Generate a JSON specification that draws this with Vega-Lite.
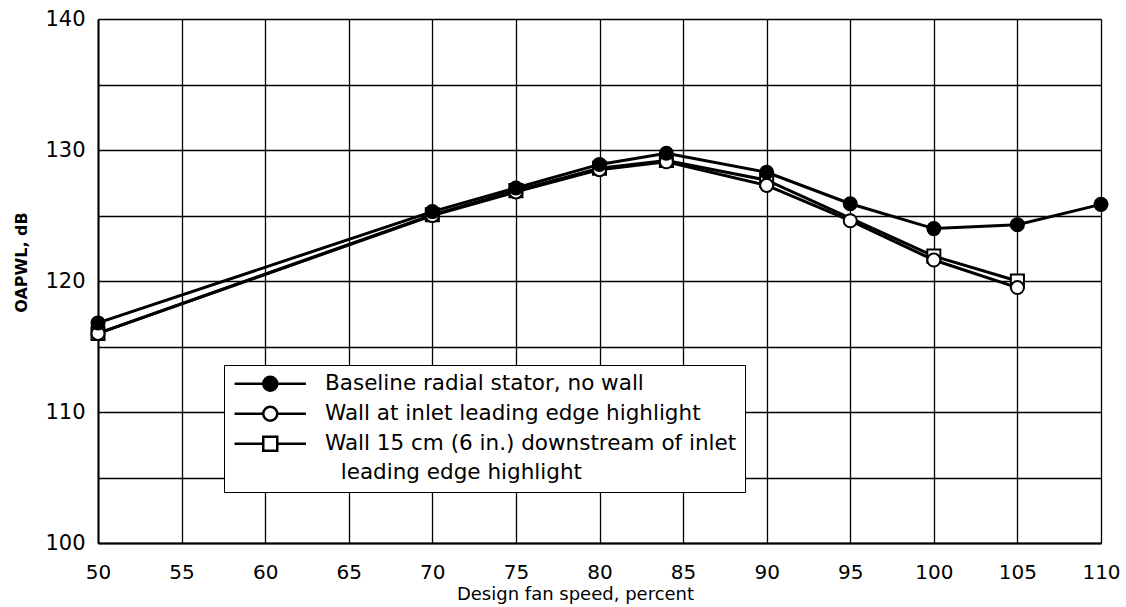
{
  "$schema": "https://vega.github.io/schema/vega-lite/v6.json",
  "width": 1003,
  "height": 524,
  "autosize": {"type": "none"},
  "padding": {"left": 98, "top": 19, "right": 25, "bottom": 64},
  "background": "white",
  "config": {"view": {"stroke": null}, "font": "DejaVu Sans"},
  "data": {
    "values": [
      {"series": "Wall 15 cm (6 in.) downstream of inlet", "speed": 50, "oapwl": 116.0},
      {"series": "Wall 15 cm (6 in.) downstream of inlet", "speed": 70, "oapwl": 125.05},
      {"series": "Wall 15 cm (6 in.) downstream of inlet", "speed": 75, "oapwl": 126.9},
      {"series": "Wall 15 cm (6 in.) downstream of inlet", "speed": 80, "oapwl": 128.6},
      {"series": "Wall 15 cm (6 in.) downstream of inlet", "speed": 84, "oapwl": 129.2},
      {"series": "Wall 15 cm (6 in.) downstream of inlet", "speed": 90, "oapwl": 127.7},
      {"series": "Wall 15 cm (6 in.) downstream of inlet", "speed": 100, "oapwl": 121.9},
      {"series": "Wall 15 cm (6 in.) downstream of inlet", "speed": 105, "oapwl": 120.0},
      {"series": "Wall at inlet leading edge highlight", "speed": 50, "oapwl": 116.0},
      {"series": "Wall at inlet leading edge highlight", "speed": 70, "oapwl": 125.0},
      {"series": "Wall at inlet leading edge highlight", "speed": 75, "oapwl": 126.8},
      {"series": "Wall at inlet leading edge highlight", "speed": 80, "oapwl": 128.5},
      {"series": "Wall at inlet leading edge highlight", "speed": 84, "oapwl": 129.1},
      {"series": "Wall at inlet leading edge highlight", "speed": 90, "oapwl": 127.3},
      {"series": "Wall at inlet leading edge highlight", "speed": 95, "oapwl": 124.6},
      {"series": "Wall at inlet leading edge highlight", "speed": 100, "oapwl": 121.6},
      {"series": "Wall at inlet leading edge highlight", "speed": 105, "oapwl": 119.5},
      {"series": "Baseline radial stator, no wall", "speed": 50, "oapwl": 116.8},
      {"series": "Baseline radial stator, no wall", "speed": 70, "oapwl": 125.3},
      {"series": "Baseline radial stator, no wall", "speed": 75, "oapwl": 127.1},
      {"series": "Baseline radial stator, no wall", "speed": 80, "oapwl": 128.9},
      {"series": "Baseline radial stator, no wall", "speed": 84, "oapwl": 129.75},
      {"series": "Baseline radial stator, no wall", "speed": 90, "oapwl": 128.3},
      {"series": "Baseline radial stator, no wall", "speed": 95, "oapwl": 125.9},
      {"series": "Baseline radial stator, no wall", "speed": 100, "oapwl": 124.0},
      {"series": "Baseline radial stator, no wall", "speed": 105, "oapwl": 124.3},
      {"series": "Baseline radial stator, no wall", "speed": 110, "oapwl": 125.85}
    ]
  },
  "encoding": {
    "x": {
      "field": "speed",
      "type": "quantitative",
      "scale": {"domain": [50, 110], "nice": false, "zero": false},
      "axis": {
        "values": [50, 55, 60, 65, 70, 75, 80, 85, 90, 95, 100, 105, 110],
        "title": "Design fan speed, percent",
        "grid": true,
        "gridColor": "black",
        "gridWidth": 1.3,
        "gridOpacity": 1,
        "ticks": false,
        "domainColor": "black",
        "domainWidth": 2,
        "labelFont": "DejaVu Sans",
        "labelFontSize": 20,
        "labelColor": "black",
        "labelPadding": 19,
        "labelFlush": false,
        "labelOverlap": false,
        "titleFont": "DejaVu Sans",
        "titleFontSize": 18,
        "titleFontWeight": "normal",
        "titleColor": "black",
        "titlePadding": 3,
        "titleX": 477
      }
    },
    "y": {
      "field": "oapwl",
      "type": "quantitative",
      "scale": {"domain": [100, 140], "nice": false, "zero": false},
      "axis": {
        "values": [100, 105, 110, 115, 120, 125, 130, 135, 140],
        "labelExpr": "datum.value % 10 === 0 ? datum.label : ''",
        "title": "OAPWL, dB",
        "grid": true,
        "gridColor": "black",
        "gridWidth": 1.3,
        "gridOpacity": 1,
        "ticks": false,
        "domainColor": "black",
        "domainWidth": 2,
        "labelFont": "DejaVu Sans",
        "labelFontSize": 21,
        "labelColor": "black",
        "labelPadding": 13,
        "labelOverlap": false,
        "titleFont": "DejaVu Sans",
        "titleFontSize": 16,
        "titleFontWeight": "bold",
        "titleColor": "black",
        "titlePadding": 15,
        "titleY": 243
      }
    }
  },
  "resolve": {"scale": {"shape": "independent", "fill": "independent", "stroke": "independent"}},
  "layer": [
    {
      "mark": {"type": "line", "color": "black", "strokeWidth": 3},
      "encoding": {"detail": {"field": "series"}}
    },
    {
      "mark": {"type": "point", "filled": true, "size": 170, "stroke": "black", "strokeWidth": 2, "opacity": 1},
      "encoding": {
        "shape": {
          "field": "series",
          "type": "nominal",
          "scale": {
            "domain": ["Baseline radial stator, no wall", "Wall at inlet leading edge highlight", "Wall 15 cm (6 in.) downstream of inlet"],
            "range": ["circle", "circle", "square"]
          },
          "legend": null
        },
        "fill": {
          "field": "series",
          "type": "nominal",
          "scale": {
            "domain": ["Baseline radial stator, no wall", "Wall at inlet leading edge highlight", "Wall 15 cm (6 in.) downstream of inlet"],
            "range": ["black", "white", "white"]
          },
          "legend": null
        }
      }
    },
    {
      "transform": [{"filter": "datum.speed > 1000"}],
      "mark": {"type": "point", "filled": false, "size": 196, "strokeWidth": 2.5, "opacity": 1},
      "encoding": {
        "shape": {
          "field": "series",
          "type": "nominal",
          "scale": {
            "domain": ["Baseline radial stator, no wall", "Wall at inlet leading edge highlight", "Wall 15 cm (6 in.) downstream of inlet", "\u2800leading edge highlight"],
            "range": ["M-5.1,0H-1M1,0H5.1M-1,0A1,1 0 1,0 1,0A1,1 0 1,0 -1,0Z", "M-5.1,0H-1M1,0H5.1M-1,0A1,1 0 1,0 1,0A1,1 0 1,0 -1,0Z", "M-5.1,0H-1M1,0H5.1M-1,-1H1V1H-1Z", "M0,0"]
          },
          "legend": {
            "title": null,
            "orient": "none",
            "direction": "vertical",
            "legendX": 126,
            "legendY": 346,
            "padding": 8,
            "strokeColor": "black",
            "fillColor": "white",
            "rowPadding": 5,
            "symbolOffset": 27.5,
            "labelOffset": 44,
            "labelFont": "DejaVu Sans",
            "labelFontSize": 21.5,
            "labelColor": "black",
            "labelLimit": 0,
            "symbolSize": 196,
            "symbolStrokeWidth": 2.5
          }
        },
        "fill": {
          "field": "series",
          "type": "nominal",
          "scale": {
            "domain": ["Baseline radial stator, no wall", "Wall at inlet leading edge highlight", "Wall 15 cm (6 in.) downstream of inlet", "\u2800leading edge highlight"],
            "range": ["black", "white", "white", "white"]
          },
          "legend": {
            "title": null,
            "orient": "none",
            "direction": "vertical",
            "legendX": 126,
            "legendY": 346,
            "padding": 8,
            "strokeColor": "black",
            "fillColor": "white",
            "rowPadding": 5,
            "symbolOffset": 27.5,
            "labelOffset": 44,
            "labelFont": "DejaVu Sans",
            "labelFontSize": 21.5,
            "labelColor": "black",
            "labelLimit": 0,
            "symbolSize": 196,
            "symbolStrokeWidth": 2.5
          }
        },
        "stroke": {
          "field": "series",
          "type": "nominal",
          "scale": {
            "domain": ["Baseline radial stator, no wall", "Wall at inlet leading edge highlight", "Wall 15 cm (6 in.) downstream of inlet", "\u2800leading edge highlight"],
            "range": ["black", "black", "black", "black"]
          },
          "legend": {
            "title": null,
            "orient": "none",
            "direction": "vertical",
            "legendX": 126,
            "legendY": 346,
            "padding": 8,
            "strokeColor": "black",
            "fillColor": "white",
            "rowPadding": 5,
            "symbolOffset": 27.5,
            "labelOffset": 44,
            "labelFont": "DejaVu Sans",
            "labelFontSize": 21.5,
            "labelColor": "black",
            "labelLimit": 0,
            "symbolSize": 196,
            "symbolStrokeWidth": 2.5
          }
        }
      }
    }
  ]
}
